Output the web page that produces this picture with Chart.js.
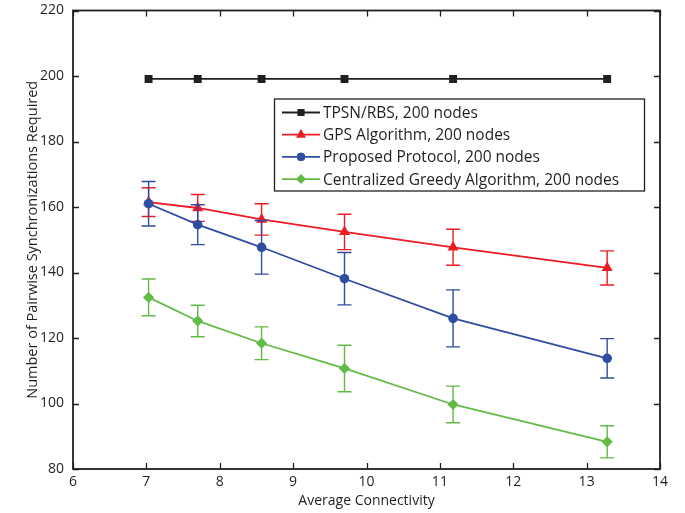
<!DOCTYPE html>
<html>
<head>
<meta charset="utf-8">
<script src="https://cdn.jsdelivr.net/npm/chart.js@4/dist/chart.umd.min.js"></script>
<style>
  html, body { margin: 0; padding: 0; background: #ffffff; }
  #wrap { width: 685px; height: 513px; }
</style>
</head>
<body>
<div id="wrap"><canvas id="chart" width="685" height="513"></canvas></div>
<script>
// Average connectivity of each network configuration
const connectivity = [7.03, 7.7, 8.57, 9.7, 11.18, 13.28];

// Pairwise synchronizations needed per scheme (mean, and error half-width)
const tpsnValues     = [199.1, 199.1, 199.1, 199.1, 199.1, 199.1];
const gpsValues      = [161.5, 159.7, 156.2, 152.4, 147.7, 141.4];
const gpsErrors      = [4.4, 4.1, 4.8, 5.4, 5.5, 5.2];
const proposedValues = [161.0, 154.6, 147.7, 138.1, 126.0, 113.8];
const proposedErrors = [6.8, 6.1, 8.2, 8.0, 8.7, 6.0];
const greedyValues   = [132.4, 125.2, 118.4, 110.7, 99.7, 88.3];
const greedyErrors   = [5.6, 4.8, 5.0, 7.1, 5.6, 4.9];

const seriesNames = [
  'TPSN/RBS, 200 nodes',
  'GPS Algorithm, 200 nodes',
  'Proposed Protocol, 200 nodes',
  'Centralized Greedy Algorithm, 200 nodes'
];

const xTitle = 'Average Connectivity';
const yTitle = 'Number of Pairwise Synchronizations Required';

const FONT = '"Open Sans", "DejaVu Sans", sans-serif';

function points(values) {
  return connectivity.map((x, i) => ({ x: x, y: values[i] }));
}

function series(idx, values, errors, color, style, radius) {
  return {
    label: seriesNames[idx],
    data: points(values),
    errors: errors,
    borderColor: color,
    backgroundColor: color,
    borderWidth: 1.8,
    pointStyle: style,
    pointRadius: radius,
    pointHoverRadius: radius,
    pointBorderWidth: 0,
    pointBackgroundColor: color,
    tension: 0,
    fill: false,
    order: 3 - idx
  };
}

const datasets = [
  series(0, tpsnValues, null, '#231f20', 'rect', 5.6),
  series(1, gpsValues, gpsErrors, '#ed1c24', 'triangle', 6.4),
  series(2, proposedValues, proposedErrors, '#2f4ea1', 'circle', 4.8),
  series(3, greedyValues, greedyErrors, '#62bb46', 'rectRot', 5.6)
];

// Vertical error bars with caps, drawn right after their own line
const errorBars = {
  id: 'errorBars',
  afterDatasetDraw(chart, args) {
    const ds = chart.data.datasets[args.index];
    if (!ds.errors) return;
    const xs = chart.scales.x, ys = chart.scales.y, ctx = chart.ctx;
    ctx.save();
    ctx.strokeStyle = ds.borderColor;
    ctx.lineWidth = 1.4;
    ds.data.forEach((p, i) => {
      const e = ds.errors[i];
      const px = xs.getPixelForValue(p.x);
      const top = ys.getPixelForValue(p.y + e);
      const bot = ys.getPixelForValue(p.y - e);
      const cap = 7;
      ctx.beginPath();
      ctx.moveTo(px, top); ctx.lineTo(px, bot);
      ctx.moveTo(px - cap, top); ctx.lineTo(px + cap, top);
      ctx.moveTo(px - cap, bot); ctx.lineTo(px + cap, bot);
      ctx.stroke();
    });
    ctx.restore();
  }
};

// Box frame with inward tick marks on all four sides
const frame = {
  id: 'frame',
  afterDatasetsDraw(chart) {
    const { ctx, chartArea: a } = chart;
    const xs = chart.scales.x, ys = chart.scales.y;
    const len = 6;
    ctx.save();
    ctx.strokeStyle = '#231f20';
    ctx.lineWidth = 1.3;
    ctx.beginPath();
    xs.ticks.forEach(t => {
      const px = Math.round(xs.getPixelForValue(t.value)) + 0.5;
      ctx.moveTo(px, a.bottom); ctx.lineTo(px, a.bottom - len);
      ctx.moveTo(px, a.top); ctx.lineTo(px, a.top + len);
    });
    ys.ticks.forEach(t => {
      const py = Math.round(ys.getPixelForValue(t.value)) + 0.5;
      ctx.moveTo(a.left, py); ctx.lineTo(a.left + len, py);
      ctx.moveTo(a.right, py); ctx.lineTo(a.right - len, py);
    });
    ctx.stroke();
    ctx.lineWidth = 1.8;
    ctx.strokeRect(a.left, a.top, a.right - a.left, a.bottom - a.top);
    ctx.restore();
  }
};

// Boxed legend with line-and-marker samples
const boxLegend = {
  id: 'boxLegend',
  afterDraw(chart) {
    const { ctx, chartArea: a } = chart;
    const left = a.left + 201, top = a.top + 88, w = 370, h = 92;
    ctx.save();
    ctx.fillStyle = '#ffffff';
    ctx.fillRect(left, top, w, h);
    ctx.strokeStyle = '#231f20';
    ctx.lineWidth = 1.3;
    ctx.strokeRect(left + 0.5, top + 0.5, w, h);
    ctx.font = '15.5px ' + FONT;
    ctx.textBaseline = 'middle';
    chart.data.datasets.forEach((ds, i) => {
      const y = top + 14 + i * 22.2;
      ctx.strokeStyle = ds.borderColor;
      ctx.lineWidth = 1.8;
      ctx.beginPath();
      ctx.moveTo(left + 8, y); ctx.lineTo(left + 46, y);
      ctx.stroke();
      ctx.fillStyle = ds.borderColor;
      Chart.helpers.drawPoint(ctx, {
        pointStyle: ds.pointStyle,
        radius: ds.pointRadius * 0.85,
        borderWidth: 0,
        rotation: 0
      }, left + 27, y);
      ctx.fill();
      ctx.fillStyle = '#231f20';
      ctx.fillText(ds.label, left + 49, y + 1);
    });
    ctx.restore();
  }
};

new Chart(document.getElementById('chart'), {
  type: 'line',
  data: { datasets: datasets },
  options: {
    responsive: false,
    animation: false,
    events: [],
    layout: { padding: { top: 10.5, right: 25, left: 0, bottom: 0 } },
    plugins: {
      legend: { display: false },
      tooltip: { enabled: false }
    },
    scales: {
      x: {
        type: 'linear',
        min: 6, max: 14,
        grid: { display: false, drawTicks: false },
        border: { display: false },
        ticks: {
          stepSize: 1, padding: 5, color: '#231f20',
          font: { family: FONT, size: 14 }, maxRotation: 0
        },
        title: {
          display: true, text: xTitle, color: '#231f20',
          font: { family: FONT, size: 14 }, padding: { top: 0, bottom: 4 }
        },
        afterFit(scale) { scale.height = 44; }
      },
      y: {
        type: 'linear',
        min: 80, max: 220,
        grid: { display: false, drawTicks: false },
        border: { display: false },
        ticks: {
          stepSize: 20, padding: 9, color: '#231f20',
          font: { family: FONT, size: 14 }
        },
        title: {
          display: true, text: yTitle, color: '#231f20',
          font: { family: FONT, size: 14.5 }, padding: { top: 24, bottom: 0 }
        },
        afterFit(scale) {
          scale.width = 73;
          scale.paddingTop = 0;
          scale.paddingBottom = 0;
        }
      }
    }
  },
  plugins: [errorBars, frame, boxLegend]
});
</script>
</body>
</html>
